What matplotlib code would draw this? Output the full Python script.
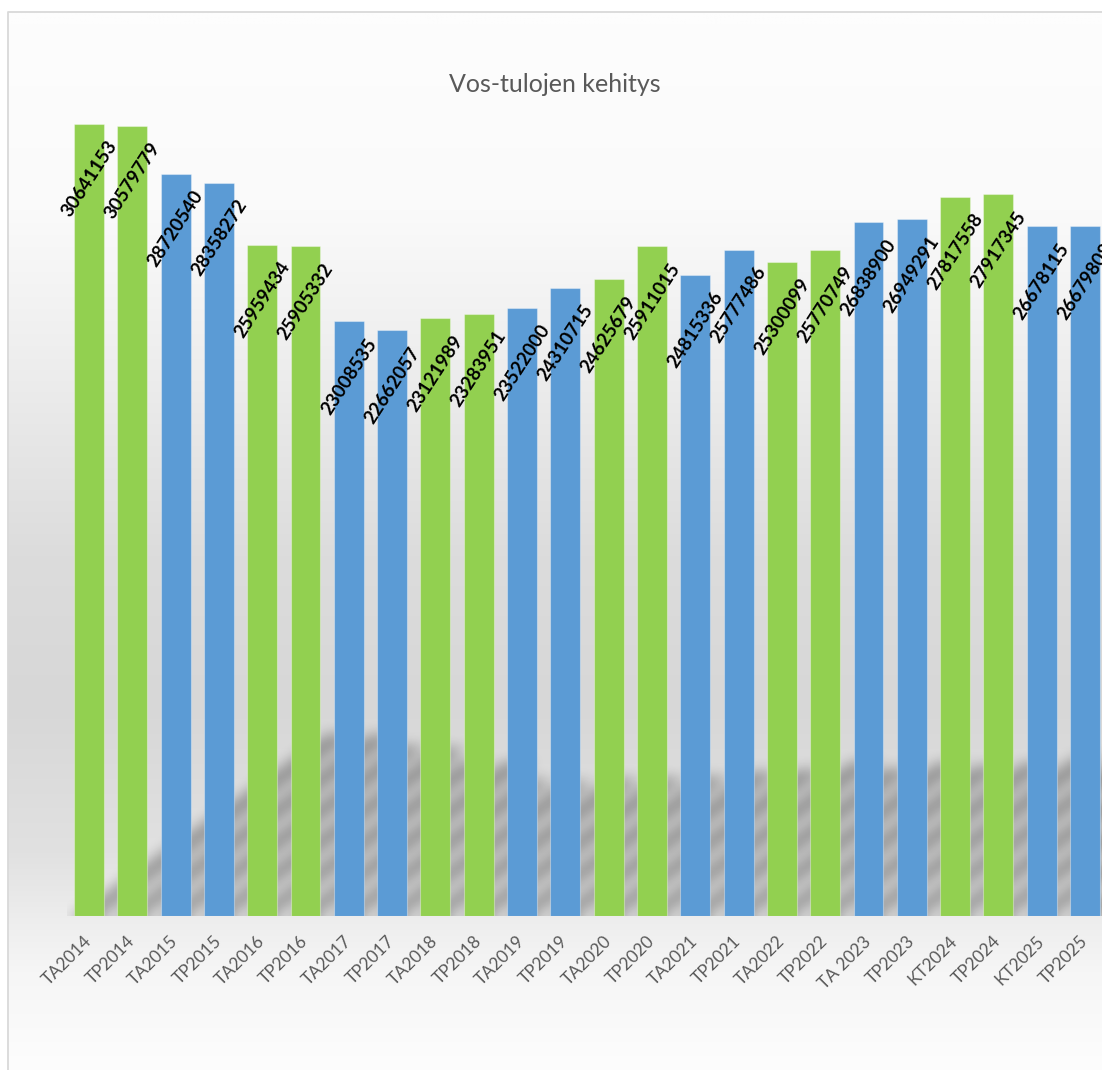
import numpy as np
import matplotlib
matplotlib.use('Agg')
import matplotlib.pyplot as plt

categories = ['TA2014', 'TP2014', 'TA2015', 'TP2015', 'TA2016', 'TP2016',
              'TA2017', 'TP2017', 'TA2018', 'TP2018', 'TA2019', 'TP2019',
              'TA2020', 'TP2020', 'TA2021', 'TP2021', 'TA2022', 'TP2022',
              'TA 2023', 'TP2023', 'KT2024', 'TP2024', 'KT2025', 'TP2025']
values = [30641153, 30579779, 28720540, 28358272, 25959434, 25905332,
          23008535, 22662057, 23121989, 23283951, 23522000, 24310715,
          24625679, 25911015, 24815336, 25777486, 25300099, 25770749,
          26838900, 26949291, 27817558, 27917345, 26678115, 26679808]
seriesGroup = ['g', 'g', 'b', 'b', 'g', 'g', 'b', 'b', 'g', 'g', 'b', 'b',
               'g', 'g', 'b', 'b', 'g', 'g', 'b', 'b', 'g', 'g', 'b', 'b']
title = 'Vos-tulojen kehitys'

GREEN = '#92D050'
BLUE = '#5B9BD5'
W, H, DPI = 1102, 1070, 100

plt.rcParams['font.family'] = ['Lato', 'DejaVu Sans']

fig = plt.figure(figsize=(W / DPI, H / DPI), dpi=DPI)
fig.patch.set_facecolor('white')

# chart area background: vertical gray gradient inside a thin border
bg = fig.add_axes([0, 0, 1, 1], zorder=0)
bg.set_xlim(0, W)
bg.set_ylim(H, 0)
bg.axis('off')
stopsY = [12, 200, 350, 550, 700, 850, 916, 970, 1070]
stopsV = [253, 250, 238, 220, 215, 225, 237, 246, 253]
rows = np.interp(np.arange(H), stopsY, stopsV) / 255.0
grad = np.repeat(rows[:, None], 4, axis=1)
bg.imshow(np.dstack([grad, grad, grad]), extent=(8, W + 20, H, 12),
          aspect='auto', interpolation='bilinear')
bg.plot([8, 8, W + 5], [H + 5, 12, 12], color='#d9d9d9', lw=1.3)

ax = fig.add_axes([67.35 / W, 154 / H, 1039.3 / W, 816 / H], zorder=1)
ax.patch.set_alpha(0)
yMax = 816 / 792 * values[0]
ax.set_xlim(-0.5, len(values) - 0.5)
ax.set_ylim(0, yMax)
for s in ax.spines.values():
    s.set_visible(False)
ax.tick_params(left=False, labelleft=False, bottom=False)

x = np.arange(len(values))
colors = [GREEN if g == 'g' else BLUE for g in seriesGroup]
barWidth = 0.69

# skewed, blurred shadow behind the bars
axW, axH = 1040, 816
shadow = np.zeros((axH, axW))
for i, v in enumerate(values):
    hPx = v / yMax * axH
    shH = int(0.23 * hPx)
    x0 = (i - barWidth / 2 + 0.5) / len(values) * axW
    x1 = (i + barWidth / 2 + 0.5) / len(values) * axW
    for r in range(shH):
        a = int(x0 + 1.4 * r)
        b = int(x1 + 1.4 * r)
        shadow[axH - 1 - r, max(a, 0):min(b, axW)] = 1.0


def boxBlur(arr, rad):
    out = arr
    for axis in (0, 1):
        pad = np.pad(out, [(rad, rad) if k == axis else (0, 0) for k in (0, 1)], mode='edge')
        c = np.cumsum(pad, axis=axis)
        c = np.insert(c, 0, 0, axis=axis)
        n = out.shape[axis]
        if axis == 0:
            out = (c[2 * rad + 1:2 * rad + 1 + n, :] - c[:n, :]) / (2 * rad + 1)
        else:
            out = (c[:, 2 * rad + 1:2 * rad + 1 + n] - c[:, :n]) / (2 * rad + 1)
    return out


for _ in range(3):
    shadow = boxBlur(shadow, 6)
rgba = np.zeros((axH, axW, 4))
rgba[..., 3] = shadow * 0.33
ax.imshow(rgba, extent=(-0.5, len(values) - 0.5, 0, yMax), aspect='auto',
          zorder=1, interpolation='bilinear')

ax.bar(x, values, width=barWidth, color=colors, edgecolor=[(1, 1, 1, 0.35)] * len(values),
       linewidth=0.8, zorder=2)

for i, v in enumerate(values):
    ax.annotate(str(v), (i, v), xytext=(0, -10), textcoords='offset points',
                rotation=57, ha='center', va='top', fontsize=13.5,
                fontweight='bold', color='black', zorder=3)

ax.set_xticks(x)
ax.set_xticklabels(categories, rotation=45, ha='right', va='center',
                   rotation_mode='anchor', fontsize=12.5, color='#595959')
ax.tick_params(axis='x', pad=13)

fig.text(555 / W, 1 - 85 / H, title, ha='center', va='center',
         fontsize=18, color='#595959')

fig.savefig('out.png', dpi=DPI)
